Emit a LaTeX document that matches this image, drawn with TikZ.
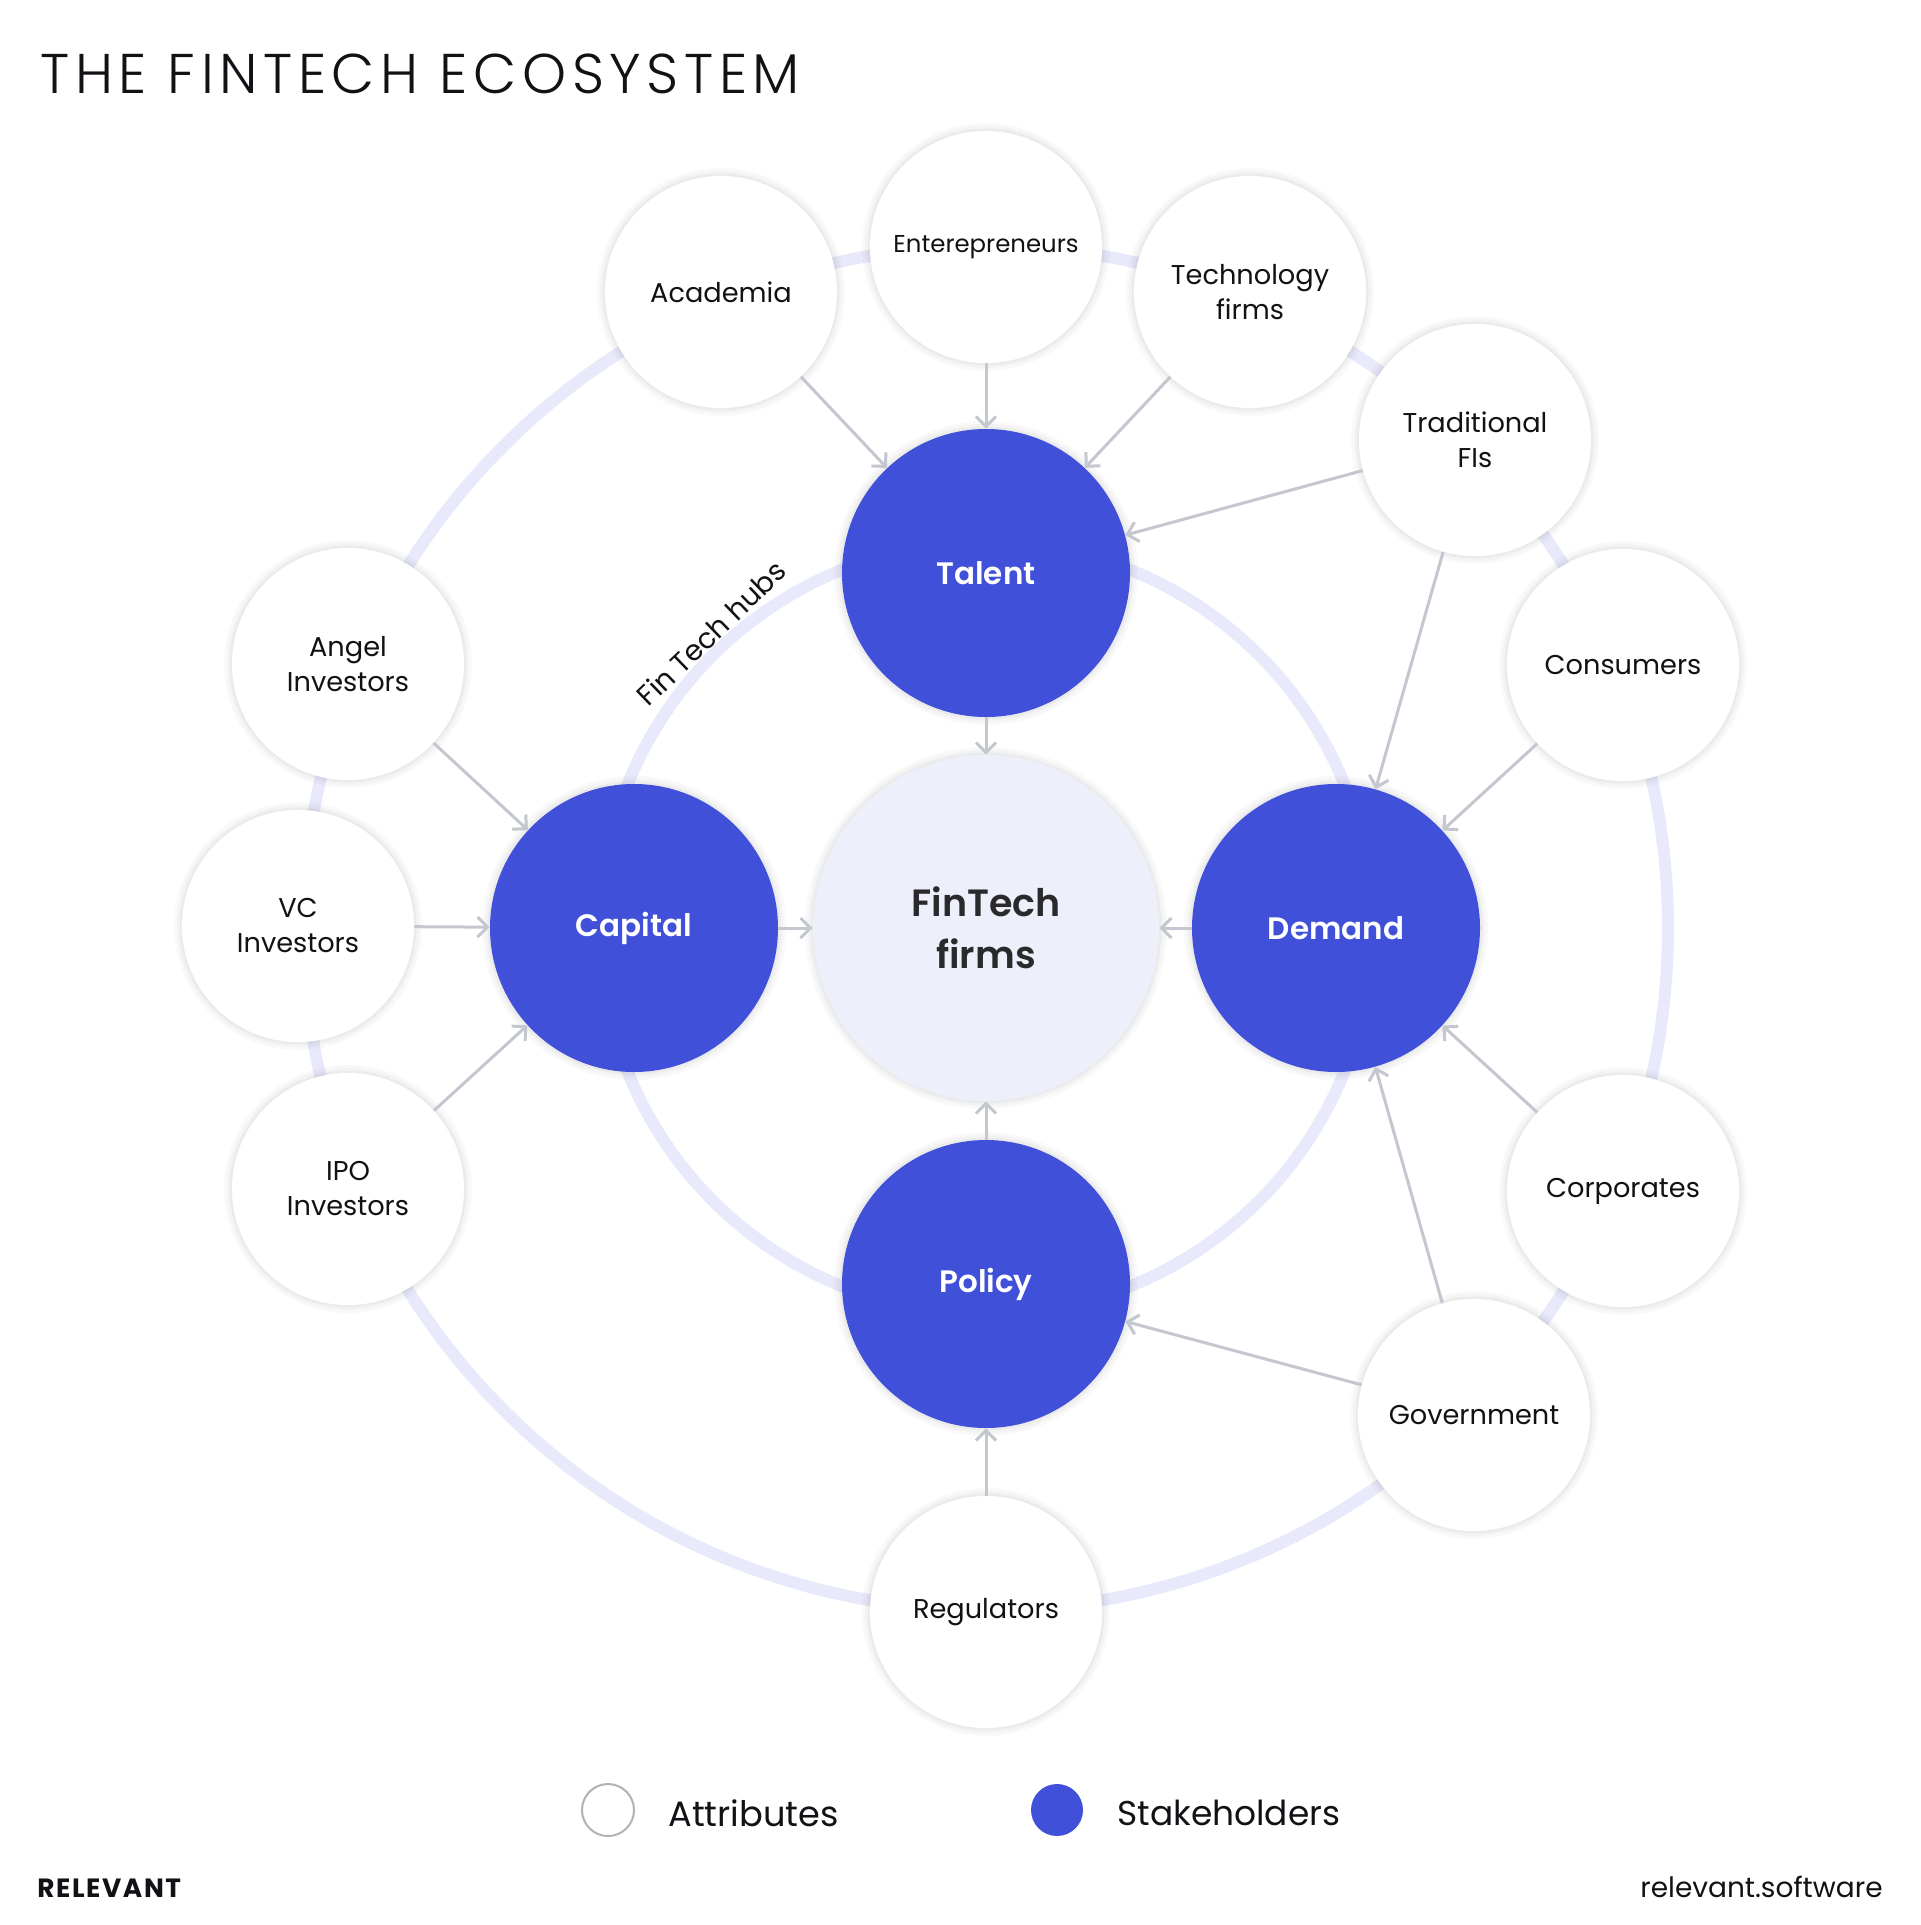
\documentclass[tikz,border=0pt]{standalone}
\usepackage{fontspec}
\setmainfont{Poppins}[BoldFont={* SemiBold}]
\newfontfamily\lightfont{Poppins Light}[LetterSpace=10]
\newfontfamily\brandfont{Poppins}[UprightFont={* Bold},LetterSpace=6]
\usetikzlibrary{arrows.meta}
\definecolor{brand}{RGB}{64,80,216}
\definecolor{ringc}{RGB}{232,234,251}
\definecolor{arrowc}{RGB}{197,199,208}
\definecolor{hubfill}{RGB}{237,240,251}
\definecolor{ink}{RGB}{18,18,22}
\begin{document}
\begin{tikzpicture}[x=0.5pt,y=-0.5pt,
  softshadow/.style={
    preaction={draw=black,draw opacity=0.022,line width=8pt},
    preaction={draw=black,draw opacity=0.025,line width=5pt},
    preaction={draw=black,draw opacity=0.03,line width=2.5pt}},
  attr/.style={circle,fill=white,minimum size=116pt,inner sep=0pt,align=center,font=\fontsize{13.6}{17.5}\selectfont,text=ink,softshadow},
  stake/.style={circle,fill=brand,minimum size=144pt,inner sep=0pt,font=\bfseries\fontsize{15.5}{19}\selectfont,text=white,softshadow},
  hub/.style={circle,fill=hubfill,minimum size=173pt,inner sep=0pt,align=center,font=\bfseries\fontsize{19}{26}\selectfont,text=ink!90,softshadow},
  ring/.style={draw=ringc,line width=6pt},
  link/.style={draw=arrowc,line width=1.5pt,-{Straight Barb[length=5pt,width=10pt]}},
  txt/.style={inner sep=0pt,text=ink},
]
\fill[white] (0,0) rectangle (1920,1925);
\useasboundingbox (0,0) rectangle (1920,1925);

% title
\node[txt,anchor=base west,font=\lightfont\fontsize{28}{32}\selectfont] (title) at (40,94) {THE FINTECH ECOSYSTEM};

% rings
\coordinate (ctr) at (986,928);
\draw[ring] (ctr) circle[radius=341pt];
\draw[ring] (ctr) circle[radius=193pt];

% centre and stakeholders
\node[hub] (fin) at (ctr) {FinTech\\firms};
\node[stake] (talent) at (986,573) {Talent};
\node[stake] (capital) at (634,928) {Capital};
\node[stake] (demand) at (1336,928) {Demand};
\node[stake] (policy) at (986,1284) {Policy};

% attributes
\node[attr] (acad) at (721,292) {Academia};
\node[attr,font=\fontsize{12.2}{15}\selectfont] (entre) at (986,247) {Enterepreneurs};
\node[attr] (tech) at (1250,292) {Technology\\firms};
\node[attr] (trad) at (1475,440) {Traditional\\FIs};
\node[attr] (cons) at (1623,665) {Consumers};
\node[attr] (corp) at (1623,1191) {Corporates};
\node[attr] (gov) at (1474,1415) {Government};
\node[attr] (reg) at (986,1612) {Regulators};
\node[attr] (ipo) at (348,1189) {IPO\\Investors};
\node[attr] (vc) at (298,926) {VC\\Investors};
\node[attr] (angel) at (348,664) {Angel\\Investors};

% ring label
\node[txt,rotate=44,font=\fontsize{14.2}{16}\selectfont] (hubs) at (711,633) {Fin Tech hubs};

% connectors
\draw[link] (acad) -- (talent);
\draw[link] (entre) -- (talent);
\draw[link] (tech) -- (talent);
\draw[link] (trad) -- (talent);
\draw[link] (trad) -- (demand);
\draw[link] (cons) -- (demand);
\draw[link] (corp) -- (demand);
\draw[link] (gov) -- (demand);
\draw[link] (gov) -- (policy);
\draw[link] (reg) -- (policy);
\draw[link] (angel) -- (capital);
\draw[link] (vc) -- (capital);
\draw[link] (ipo) -- (capital);
\draw[link] (talent) -- (fin);
\draw[link] (capital) -- (fin);
\draw[link] (demand) -- (fin);
\draw[link] (policy) -- (fin);

% legend
\node[circle,draw=black!30,line width=1pt,fill=white,minimum size=26pt,inner sep=0pt] (lgA) at (608,1810) {};
\node[txt,anchor=west,font=\fontsize{17.6}{20}\selectfont] (lgAt) at (668,1813) {Attributes};
\node[circle,fill=brand,minimum size=26pt,inner sep=0pt] (lgS) at (1057,1810) {};
\node[txt,anchor=west,font=\fontsize{17.2}{20}\selectfont] (lgSt) at (1117,1813) {Stakeholders};

% footer
\node[txt,anchor=base west,font=\brandfont\fontsize{13.2}{15}\selectfont] (brandname) at (37,1897) {RELEVANT};
\node[txt,anchor=base east,font=\fontsize{14}{16}\selectfont] (site) at (1883,1897) {relevant.software};
\end{tikzpicture}
\end{document}
